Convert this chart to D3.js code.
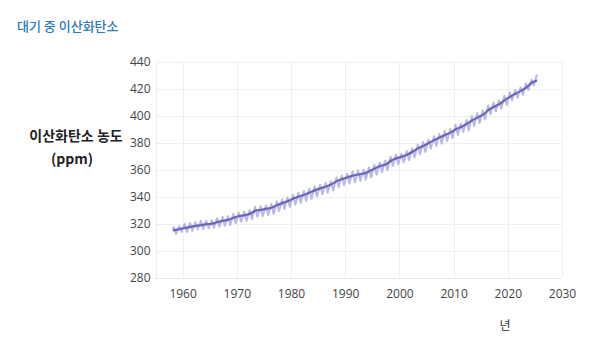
<!DOCTYPE html>
<html>
<head>
<meta charset="utf-8">
<script src="https://cdn.jsdelivr.net/npm/d3@7"></script>
<style>
  body { margin: 0; background: #fff; }
  text { font-family: "Open Sans", "Noto Sans CJK KR", sans-serif; }
</style>
</head>
<body>
<div id="chart"></div>
<script>
// Mauna Loa style CO2 record (ppm)
// seasonal curve: one May peak and one October trough per year
const years = d3.range(1958, 2026);
const mayPeak = [
  317.5, 318.3, 320.0, 320.6, 321.1, 322.1, 322.2, 322.6, 324.1, 325.0,
  325.6, 327.3, 328.1, 328.9, 330.1, 332.5, 332.9, 333.5, 334.8, 336.6,
  338.0, 339.4, 341.5, 343.0, 344.2, 345.9, 347.5, 348.9, 350.4, 351.7,
  354.2, 355.6, 357.0, 358.8, 359.6, 360.0, 361.7, 363.7, 365.4, 366.8,
  369.6, 371.0, 371.9, 373.9, 375.9, 378.5, 380.5, 382.3, 384.8, 386.5,
  388.6, 390.2, 393.2, 394.3, 396.8, 399.8, 401.9, 403.9, 407.6, 409.7,
  411.2, 414.7, 417.1, 419.1, 421.0, 424.0, 426.7, 430.5
];
const octTrough = [
  312.4, 313.8, 313.8, 314.8, 315.8, 316.0, 316.6, 317.1, 317.8, 318.5,
  319.0, 320.3, 321.4, 322.1, 323.3, 325.1, 325.6, 326.4, 327.2, 329.4,
  330.9, 332.3, 334.0, 335.5, 336.8, 338.5, 340.2, 341.8, 342.9, 344.6,
  347.2, 348.6, 349.8, 350.6, 351.7, 352.5, 354.3, 356.2, 358.2, 359.6,
  362.8, 364.0, 365.5, 367.0, 369.0, 371.5, 373.1, 375.5, 377.6, 379.3,
  381.2, 383.5, 385.6, 387.9, 389.1, 392.4, 394.4, 397.2, 401.0, 403.3,
  405.1, 408.0, 411.3, 413.3, 415.4, 418.8, 422.4
];
// trend: annual means
const annualMean = [
  315.2, 315.98, 316.91, 317.64, 318.45, 318.99, 319.62, 320.04, 321.37, 322.18,
  323.05, 324.62, 325.68, 326.32, 327.46, 329.68, 330.19, 331.13, 332.03, 333.84,
  335.41, 336.84, 338.76, 340.12, 341.48, 343.15, 344.87, 346.35, 347.61, 349.31,
  351.69, 353.20, 354.45, 355.70, 356.54, 357.21, 358.96, 360.97, 362.74, 363.88,
  366.84, 368.54, 369.71, 371.32, 373.45, 375.98, 377.70, 379.98, 382.09, 384.02,
  385.83, 387.64, 390.10, 391.85, 394.06, 396.74, 398.81, 401.01, 404.41, 406.76,
  408.72, 411.66, 414.24, 416.45, 418.56, 421.08, 424.61, 426.0
];
const start = { t: 1958.2, seasonal: 315.7, trend: 315.0 };
const xTicks = [1960, 1970, 1980, 1990, 2000, 2010, 2020, 2030];
const yTicks = [280, 300, 320, 340, 360, 380, 400, 420, 440];

const W = 602, H = 351;
const svg = d3.select("#chart").append("svg")
  .attr("width", W).attr("height", H);

const x = d3.scaleLinear().domain([1955, 2030]).range([155.5, 562]);
const y = d3.scaleLinear().domain([280, 440]).range([277.7, 61.7]);

// build series
const seasonal = [[start.t, start.seasonal]];
years.forEach((yr, i) => {
  seasonal.push([yr + 0.37, mayPeak[i]]);
  if (i < octTrough.length) seasonal.push([yr + 0.79, octTrough[i]]);
});
const trend = [[start.t, start.trend]];
years.forEach((yr, i) => {
  if (yr === 2025) trend.push([2025.4, annualMean[i]]);
  else trend.push([yr + 0.5, annualMean[i]]);
});

// grid
svg.append("g")
  .selectAll("line")
  .data(yTicks)
  .join("line")
  .attr("x1", x(1955)).attr("x2", x(2030))
  .attr("y1", d => Math.round(y(d)) + 0.5).attr("y2", d => Math.round(y(d)) + 0.5)
  .attr("stroke", d => d === 280 ? "#e6e6e6" : "#efefef")
  .attr("stroke-width", 1);

svg.append("g")
  .selectAll("line")
  .data([1955].concat(xTicks))
  .join("line")
  .attr("x1", d => Math.round(x(d)) + 0.5).attr("x2", d => Math.round(x(d)) + 0.5)
  .attr("y1", y(440)).attr("y2", y(280))
  .attr("stroke", "#efefef")
  .attr("stroke-width", 1);

// axes
svg.append("g")
  .attr("transform", `translate(0,${y(280)})`)
  .call(d3.axisBottom(x).tickValues(xTicks).tickFormat(d3.format("d")).tickSize(0).tickPadding(12))
  .call(g => g.select(".domain").remove())
  .selectAll("text")
  .style("font-size", "12px")
  .attr("fill", "#444");

svg.append("g")
  .attr("transform", `translate(${x(1955)},0)`)
  .call(d3.axisLeft(y).tickValues(yTicks).tickSize(0).tickPadding(5))
  .call(g => g.select(".domain").remove())
  .selectAll("text")
  .style("font-size", "12px")
  .attr("fill", "#444");

// lines
const line = d3.line().x(d => x(d[0])).y(d => y(d[1]));

svg.append("path")
  .datum(seasonal)
  .attr("fill", "none")
  .attr("stroke", "#bab8e4")
  .attr("stroke-width", 2)
  .attr("stroke-linejoin", "round")
  .attr("d", line);

svg.append("path")
  .datum(trend)
  .attr("fill", "none")
  .attr("stroke", "#6b67b6")
  .attr("stroke-width", 2.2)
  .attr("stroke-linejoin", "round")
  .attr("d", d3.line().curve(d3.curveMonotoneX).x(d => x(d[0])).y(d => y(d[1])));

// titles
svg.append("text")
  .attr("x", 17).attr("y", 31)
  .style("font-family", "'Noto Sans CJK KR', sans-serif")
  .style("font-size", "13px")
  .style("font-weight", 500)
  .attr("fill", "#2a7ab8")
  .text("대기 중 이산화탄소");

svg.append("text")
  .attr("x", 76).attr("y", 141)
  .attr("text-anchor", "middle")
  .style("font-family", "'Noto Sans CJK KR', sans-serif")
  .style("font-size", "14px")
  .style("font-weight", 700)
  .attr("fill", "#222")
  .text("이산화탄소 농도");

svg.append("text")
  .attr("x", 72).attr("y", 164)
  .attr("text-anchor", "middle")
  .style("font-family", "'Noto Sans CJK KR', sans-serif")
  .style("font-size", "14px")
  .style("font-weight", 700)
  .attr("fill", "#222")
  .text("(ppm)");

svg.append("text")
  .attr("x", 505).attr("y", 330)
  .attr("text-anchor", "middle")
  .style("font-family", "'Noto Sans CJK KR', sans-serif")
  .style("font-size", "12px")
  .attr("fill", "#333")
  .text("년");
</script>
</body>
</html>
